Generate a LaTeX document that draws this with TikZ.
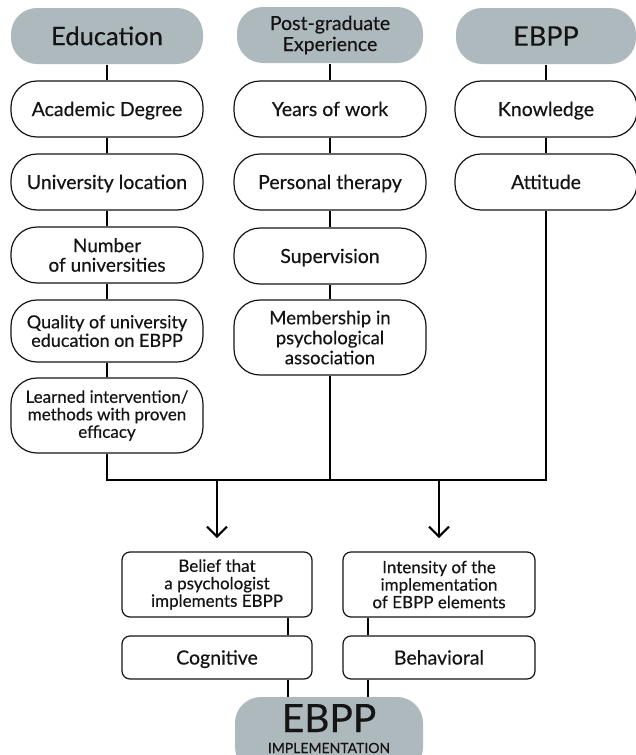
\documentclass[tikz,border=0pt]{standalone}
\usepackage{fontspec}
\setmainfont{Lato}[FakeBold=0.35]
\usetikzlibrary{arrows.meta}
\definecolor{hdr}{HTML}{AEB9BE}
\definecolor{txt}{HTML}{141414}
\tikzset{
  pill/.style={draw=txt, line width=1.2pt, fill=white, rounded corners=26pt, minimum width=192pt, minimum height=56pt, align=center, text=txt, font=\fontsize{19.5}{20}\selectfont, inner sep=2pt},
  one/.style={text height=14pt, text depth=0pt},
  head/.style={pill, draw=none, fill=hdr, font=\fontsize{25.5}{27}\selectfont},
  sqbox/.style={draw=txt, line width=1.2pt, fill=white, rounded corners=8pt, minimum width=190pt, align=center, text=txt, font=\fontsize{17}{17.5}\selectfont, inner sep=2pt},
  link/.style={draw=black, line width=2.2pt},
  arr/.style={draw=black, line width=2pt, -{Straight Barb[length=10pt,width=20pt,line width=2pt]}}
}
\begin{document}
\begin{tikzpicture}[x=1pt,y=-1pt]
\clip (0,0) rectangle (636,755);
\fill[white] (0,0) rectangle (636,755);
% column 1
\node[head, text height=18.4pt, text depth=0pt] (edu) at (107,36) {Education};
\node[pill, one] (acad) at (107,109) {Academic Degree};
\node[pill, one] (uloc) at (107,182) {University location};
\node[pill, font=\fontsize{19}{19.5}\selectfont] (nuni) at (107,255) {Number\\of universities};
\node[pill, minimum height=62pt, font=\fontsize{18}{18.5}\selectfont] (qual) at (107,331) {Quality of university\\education on EBPP};
\node[pill, minimum height=75pt, font=\fontsize{17}{17.5}\selectfont] (lrn) at (107,415.5) {Learned intervention/\\methods with proven\\efficacy};
% column 2
\node[head, font=\fontsize{19.5}{21}\selectfont, minimum width=186pt] (pge) at (330,35) {Post-graduate\\Experience};
\node[pill, one] (yrs) at (330,109) {Years of work};
\node[pill, one] (ther) at (330,182) {Personal therapy};
\node[pill, one] (sup) at (330,256) {Supervision};
\node[pill, minimum height=75pt, font=\fontsize{18.5}{20}\selectfont] (mem) at (330,337.5) {Membership in\\psychological\\association};
% column 3
\node[head, minimum width=180pt, font=\fontsize{27}{28}\selectfont, text height=19.4pt, text depth=0pt] (ebpp) at (546,36) {EBPP};
\node[pill, one, minimum width=182pt] (know) at (546,109) {Knowledge};
\node[pill, one, minimum width=182pt] (att) at (546,182) {Attitude};
% trunk coordinates
\coordinate (t1) at (107,480);
\coordinate (t2) at (330,480);
\coordinate (t3) at (546,480);
\coordinate (a1) at (217,480);
\coordinate (a2) at (439,480);
\coordinate (a1e) at (217,538);
\coordinate (a2e) at (439,538);
% links
\draw[link] (edu.south) -- (acad.north);
\draw[link] (acad.south) -- (uloc.north);
\draw[link] (uloc.south) -- (nuni.north);
\draw[link] (nuni.south) -- (qual.north);
\draw[link] (qual.south) -- (lrn.north);
\draw[link] (pge.south) -- (yrs.north);
\draw[link] (yrs.south) -- (ther.north);
\draw[link] (ther.south) -- (sup.north);
\draw[link] (sup.south) -- (mem.north);
\draw[link] (ebpp.south) -- (know.north);
\draw[link] (know.south) -- (att.north);
\draw[link, line join=miter] (lrn.south) -- (t1) -- (t3) -- (att.south);
\draw[link] (mem.south) -- (t2);
\draw[arr] (a1) -- (a1e);
\draw[arr] (a2) -- (a2e);
% bottom
\node[sqbox, minimum height=65pt] (bel) at (217,584.5) {Belief that\\a psychologist\\implements EBPP};
\node[sqbox, minimum height=65pt, minimum width=192pt] (int) at (439,584.5) {Intensity of the\\implementation\\of EBPP elements};
\node[sqbox, one, minimum height=43pt, font=\fontsize{19.5}{20}\selectfont] (cog) at (217,657.5) {Cognitive};
\node[sqbox, one, minimum height=43pt, minimum width=192pt, font=\fontsize{19.5}{20}\selectfont] (beh) at (439,657.5) {Behavioral};
\node[draw=none, fill=hdr, rounded corners=26pt, minimum width=188pt, minimum height=76pt, inner sep=0pt] (impl) at (329,735) {};
\node[anchor=base, text=txt, font=\fontsize{39}{40}\selectfont, inner sep=0pt] (implA) at (329,732) {EBPP};
\node[anchor=base, text=txt, font=\fontsize{14}{15}\selectfont, inner sep=0pt] (implB) at (329,753) {IMPLEMENTATION};
\coordinate (cl) at ([xshift=71pt]cog.south);
\coordinate (bl) at ([xshift=-71pt]beh.south);
\draw[link] ([xshift=71pt]bel.south) -- ([xshift=71pt]cog.north);
\draw[link] ([xshift=-71pt]int.south) -- ([xshift=-71pt]beh.north);
\draw[link] (cl) -- (cl |- impl.north);
\draw[link] (bl) -- (bl |- impl.north);
\end{tikzpicture}
\end{document}
